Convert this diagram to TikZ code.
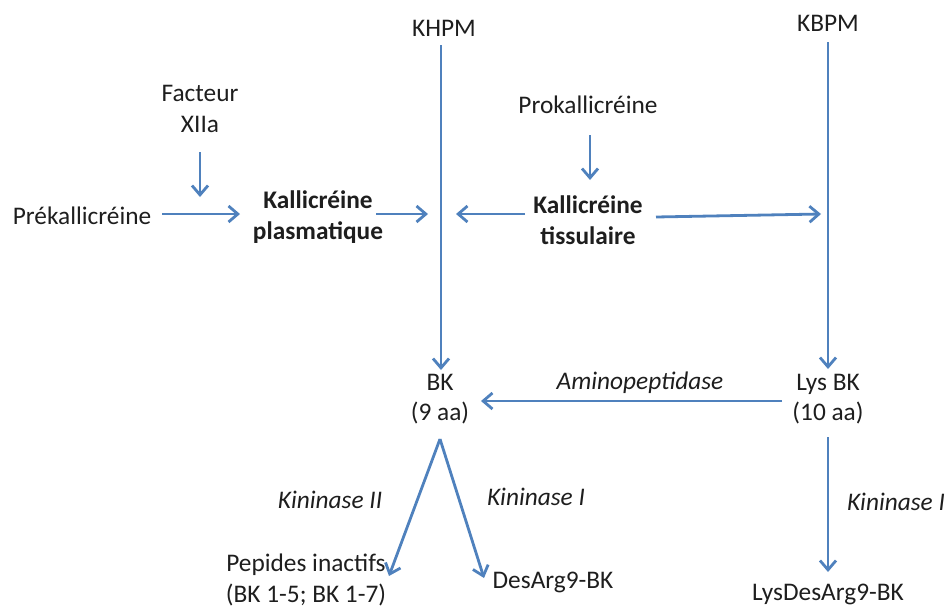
\documentclass[tikz,border=0pt]{standalone}
\usepackage{fontspec}
\setmainfont{Carlito}
\usetikzlibrary{arrows.meta}
\definecolor{arrowblue}{RGB}{79,129,189}
\definecolor{txt}{RGB}{30,30,30}
\begin{document}
\begin{tikzpicture}[x=0.75pt,y=-0.75pt,
  lbl/.style={inner sep=0pt,align=center,text=txt,font=\fontsize{19}{23}\selectfont},
  bold/.style={lbl,font=\fontsize{19}{23}\selectfont\bfseries},
  enz/.style={lbl,font=\fontsize{19}{23}\selectfont\itshape},
  arr/.style={draw=arrowblue,line width=2.1pt,-{Straight Barb[length=7pt,width=12pt,line width=2.1pt]}}]
\useasboundingbox (0,0) rectangle (947,607);

% nodes
\node[lbl] (khpm) at (444,28) {KHPM};
\node[lbl] (kbpm) at (828,23) {KBPM};
\node[lbl] (fxii) at (200,109) {Facteur\\XIIa};
\node[lbl] (prok) at (588,105) {Prokallicréine};
\node[lbl] (prek) at (82,216) {Prékallicréine};
\node[bold] (kplas) at (318,217) {Kallicréine\\plasmatique};
\node[bold] (ktis) at (588,220) {Kallicréine\\tissulaire};
\node[lbl] (bk) at (440,399) {BK\\(9 aa)};
\node[lbl] (lysbk) at (828,399) {Lys BK\\(10 aa)};
\node[lbl] (pep) at (306,580) {Pepides inactifs\\(BK 1-5; BK 1-7)};
\node[lbl] (desarg) at (553,582) {DesArg9-BK};
\node[lbl,anchor=south] (lysdes) at (828,605) {LysDesArg9-BK};

% enzyme labels
\node[enz] (amino) at (640,383) {Aminopeptidase};
\node[enz] (kin2) at (330,500) {Kininase II};
\node[enz] (kin1) at (536,497) {Kininase I};
\node[enz] (kin1b) at (896,502) {Kininase I};

% coordinates
\coordinate (khtop) at (441,45);
\coordinate (khbot) at (441,370);
\coordinate (kbtop) at (828,42);
\coordinate (kbbot) at (828,369);
\coordinate (fxs) at (200,152);
\coordinate (fxe) at (200,197);
\coordinate (pks) at (162,214);
\coordinate (pke) at (240,214);
\coordinate (kps) at (376,214);
\coordinate (kpe) at (428,214);
\coordinate (kts) at (525,214);
\coordinate (kte) at (456,214);
\coordinate (kt2s) at (656,217);
\coordinate (kt2e) at (821,214);
\coordinate (prs) at (590,135);
\coordinate (pre) at (590,180);
\coordinate (ams) at (782,401);
\coordinate (ame) at (481,401);
\coordinate (apex) at (440,439);
\coordinate (pepe) at (389,576);
\coordinate (dese) at (484,578);
\coordinate (lys) at (828,437);
\coordinate (lyse) at (828,572);

% connectors
\draw[arr] (khtop) -- (khbot);
\draw[arr] (kbtop) -- (kbbot);
\draw[arr] (fxs) -- (fxe);
\draw[arr] (pks) -- (pke);
\draw[arr] (kps) -- (kpe);
\draw[arr] (kts) -- (kte);
\draw[arr] (kt2s) -- (kt2e);
\draw[arr] (prs) -- (pre);
\draw[arr] (ams) -- (ame);
\draw[arr] (apex) -- (pepe);
\draw[arr] (apex) -- (dese);
\draw[arr] (lys) -- (lyse);
\end{tikzpicture}
\end{document}
